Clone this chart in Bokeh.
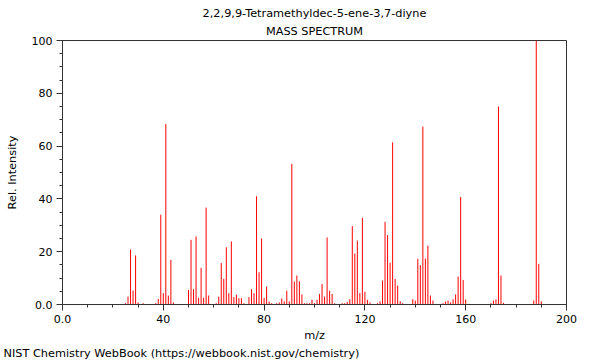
from bokeh.plotting import figure
from bokeh.models import Range1d, SingleIntervalTicker, CustomJSTickFormatter, Title
from bokeh.embed import file_html
from bokeh.resources import INLINE

# ---- data ----
mz = [25, 26, 27, 28, 29, 30, 32, 37, 38, 39, 40, 41, 42, 43, 44,
      50, 51, 52, 53, 54, 55, 56, 57, 58, 61, 62, 63, 64, 65, 66, 67, 68, 69, 70, 71, 72,
      74, 75, 76, 77, 78, 79, 80, 81, 82, 83, 85, 86, 87, 88, 89, 90, 91, 92, 93, 94, 95,
      96, 97, 98, 99, 100, 101, 102, 103, 104, 105, 106, 107, 108, 111, 112, 113, 114, 115,
      116, 117, 118, 119, 120, 121, 122, 125, 126, 127, 128, 129, 130, 131, 132, 133, 134,
      135, 139, 140, 141, 142, 143, 144, 145, 146, 147, 151, 152, 153, 154, 155, 156, 157,
      158, 159, 160, 170, 171, 172, 173, 174, 175, 187, 188, 189, 190]
intensity = [0.5, 3.0, 20.8, 5.3, 18.6, 0.8, 0.5, 0.5, 2.1, 34.0, 4.3, 68.4, 3.4, 16.9, 0.8,
             5.5, 24.5, 5.8, 25.8, 2.5, 13.9, 2.5, 36.7, 3.4, 0.5, 3.0, 15.7, 9.7, 21.7, 4.3, 23.9, 2.8, 3.7, 2.4, 2.4, 0.5,
             2.8, 5.8, 4.3, 41.0, 12.2, 25.0, 2.5, 6.8, 1.1, 0.5, 0.5, 0.8, 2.3, 1.2, 5.2, 1.2, 53.3, 8.7, 11.0, 8.8, 3.8,
             0.5, 0.5, 0.5, 1.8, 0.5, 1.8, 4.0, 7.8, 3.0, 25.4, 5.2, 4.0, 0.5, 0.5, 0.5, 1.0, 2.0, 29.7,
             19.3, 24.2, 4.3, 32.8, 4.8, 1.8, 0.8, 0.5, 1.2, 9.1, 31.3, 26.3, 15.8, 61.4, 9.7, 7.2, 1.2,
             0.5, 2.0, 1.5, 17.3, 14.9, 67.4, 17.4, 22.3, 3.4, 1.5, 0.5, 1.1, 1.5, 0.8, 2.0, 3.8, 10.6,
             40.7, 9.3, 1.9, 0.5, 1.5, 1.9, 75.0, 11.0, 0.6, 1.5, 100.0, 15.4, 1.2]
baseline = [0.0] * len(mz)

title_line1 = "2,2,9,9-Tetramethyldec-5-ene-3,7-diyne"
title_line2 = "MASS SPECTRUM"
footer = "NIST Chemistry WebBook (https://webbook.nist.gov/chemistry)"
x_label = "m/z"
y_label = "Rel. Intensity"

FONT = "DejaVu Sans"
AX = "#333333"

p = figure(width=600, height=360, output_backend="svg", toolbar_location=None, title=None,
           x_range=Range1d(0, 200), y_range=Range1d(0, 100),
           min_border_left=62, min_border_right=34, min_border_top=40, min_border_bottom=56)
p.background_fill_color = "white"
p.border_fill_color = "white"
p.outline_line_color = AX
p.outline_line_width = 1
p.xgrid.visible = False
p.ygrid.visible = False

p.segment(x0=mz, y0=baseline, x1=mz, y1=intensity, line_color="#ff0000", line_width=1)

fmt = CustomJSTickFormatter(code="return tick == 0 ? '0.0' : tick.toFixed(0);")

p.xaxis.ticker = SingleIntervalTicker(interval=40, num_minor_ticks=4)
p.yaxis.ticker = SingleIntervalTicker(interval=20, num_minor_ticks=4)
for ax in (p.xaxis[0], p.yaxis[0]):
    ax.formatter = fmt
    ax.axis_line_color = AX
    ax.major_tick_line_color = AX
    ax.minor_tick_line_color = AX
    ax.major_tick_out = 6
    ax.major_tick_in = 0
    ax.minor_tick_out = 3
    ax.minor_tick_in = 0
    ax.major_label_text_font = FONT
    ax.major_label_text_font_size = "11px"
    ax.major_label_text_color = "black"
    ax.major_label_standoff = 4
    ax.axis_label_text_font = FONT
    ax.axis_label_text_font_size = "11.3px"
    ax.axis_label_text_font_style = "normal"
    ax.axis_label_text_color = "black"

p.xaxis.axis_label = x_label
p.xaxis.axis_label_standoff = 3
p.yaxis.axis_label = y_label
p.yaxis.axis_label_standoff = 10

common = dict(text_font=FONT, text_font_size="11.3px", text_color="black", text_font_style="normal")
p.add_layout(Title(text=title_line2, align="center", standoff=5, **common), "above")
p.add_layout(Title(text=title_line1, align="center", standoff=2, **common), "above")
p.add_layout(Title(text=footer, align="left", offset=-59, standoff=1, **common), "below")

open("out.html", "w").write(file_html(p, INLINE))
